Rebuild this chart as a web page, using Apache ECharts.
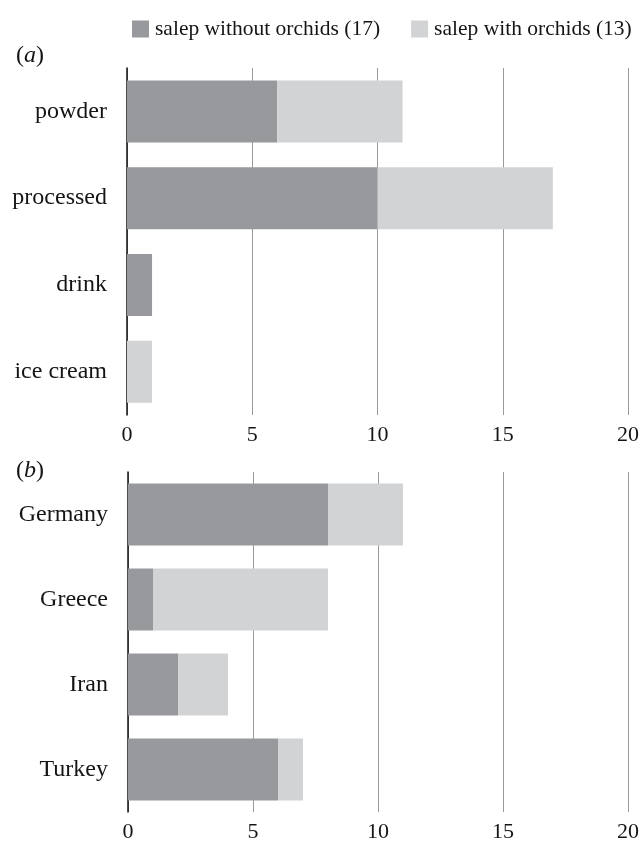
<!DOCTYPE html>
<html>
<head>
<meta charset="utf-8">
<script src="https://cdn.jsdelivr.net/npm/echarts@6/dist/echarts.min.js"></script>
<style>
  html, body { margin: 0; padding: 0; background: #fff; }
  #chart { width: 642px; height: 843px; }
</style>
</head>
<body>
<div id="chart"></div>
<script>
// Panel (a): salep product types
const productCategories = ['powder', 'processed', 'drink', 'ice cream'];
const productWithout = [6, 10, 1, 0];
const productWith = [5, 7, 0, 1];

// Panel (b): country of purchase
const countryCategories = ['Germany', 'Greece', 'Iran', 'Turkey'];
const countryWithout = [8, 1, 2, 6];
const countryWith = [3, 7, 2, 1];

const seriesNames = ['salep without orchids (17)', 'salep with orchids (13)'];
const xTicks = { min: 0, max: 20, interval: 5 };

const DARK = '#98999c';
const LIGHT = '#d2d3d5';
const INK = '#151515';
const FONT = '"Liberation Serif", "Times New Roman", serif';

const chart = echarts.init(document.getElementById('chart'), null, { renderer: 'canvas' });

function xAxisFor(gridIndex) {
  return {
    type: 'value', gridIndex: gridIndex,
    min: xTicks.min, max: xTicks.max, interval: xTicks.interval,
    axisLine: { show: false },
    axisTick: { show: false },
    axisLabel: { color: INK, fontFamily: FONT, fontSize: 22, margin: 9 },
    splitLine: { show: true, lineStyle: { color: '#9a9a9a', width: 1 } }
  };
}

function yAxisFor(gridIndex, cats) {
  return {
    type: 'category', gridIndex: gridIndex, data: cats, inverse: true,
    axisLine: { show: true, lineStyle: { color: '#111', width: 1.5 } },
    axisTick: { show: false },
    axisLabel: { color: INK, fontFamily: FONT, fontSize: 24, margin: 20 },
    splitLine: { show: false }
  };
}

function barSeries(name, data, idx, stack, color) {
  return {
    name: name, type: 'bar', stack: stack,
    xAxisIndex: idx, yAxisIndex: idx,
    data: data, barWidth: 62,
    itemStyle: { color: color },
    emphasis: { disabled: true },
    silent: true
  };
}

function panelTag(letter, top) {
  return {
    type: 'text', left: 16, top: top,
    style: {
      text: '{n|(}{i|' + letter + '}{n|)}',
      rich: {
        n: { fontFamily: FONT, fontSize: 24, fill: INK },
        i: { fontFamily: FONT, fontSize: 24, fontStyle: 'italic', fill: INK }
      }
    }
  };
}

const option = {
  animation: false,
  backgroundColor: '#fff',
  textStyle: { fontFamily: FONT },
  legend: {
    left: 132, top: 18, padding: 0,
    itemWidth: 17, itemHeight: 17, itemGap: 31,
    icon: 'rect',
    data: seriesNames,
    textStyle: { fontFamily: FONT, fontSize: 21.5, color: INK, padding: [0, 0, 0, 1] },
    selectedMode: false
  },
  graphic: [panelTag('a', 44), panelTag('b', 459)],
  grid: [
    { left: 127, width: 501, top: 68, height: 347 },
    { left: 128, width: 501, top: 472, height: 345 }
  ],
  xAxis: [xAxisFor(0), xAxisFor(1)],
  yAxis: [yAxisFor(0, productCategories), yAxisFor(1, countryCategories)],
  series: [
    barSeries(seriesNames[0], productWithout, 0, 'a', DARK),
    barSeries(seriesNames[1], productWith, 0, 'a', LIGHT),
    barSeries(seriesNames[0], countryWithout, 1, 'b', DARK),
    barSeries(seriesNames[1], countryWith, 1, 'b', LIGHT)
  ]
};

chart.setOption(option);
</script>
</body>
</html>
